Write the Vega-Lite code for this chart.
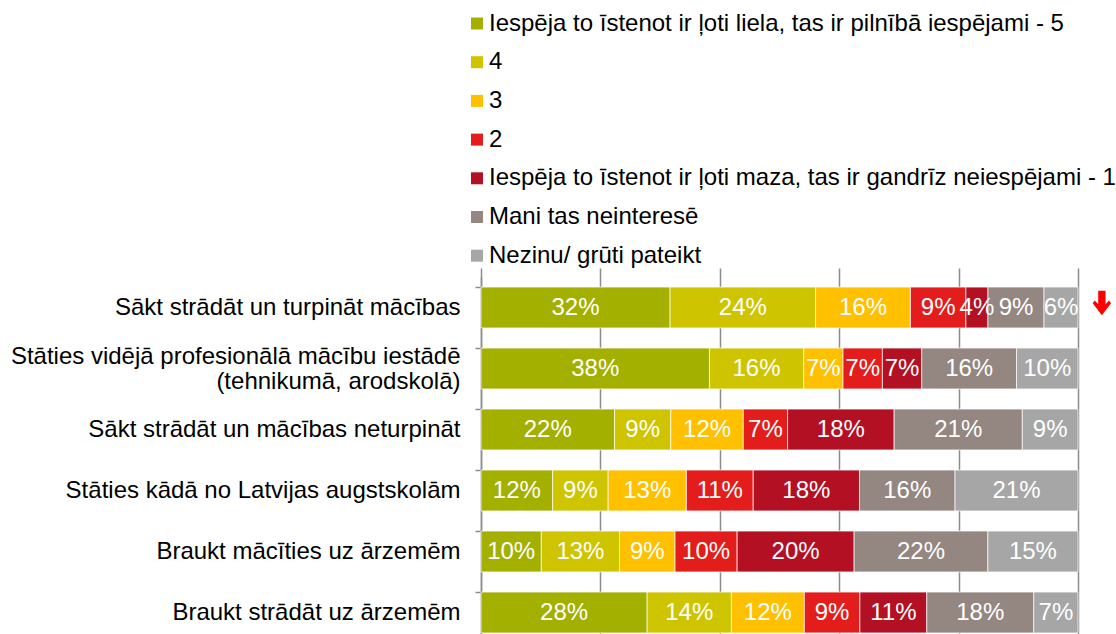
{
  "$schema": "https://vega.github.io/schema/vega-lite/v6.json",
  "width": 597,
  "height": 357,
  "autosize": {"type": "none"},
  "padding": {"left": 481, "top": 277, "right": 38, "bottom": 0},
  "background": "white",
  "config": {"view": {"stroke": null}, "font": "Liberation Sans"},
  "data": {"values": [
    {"task": "Sākt strādāt un turpināt mācības", "k": 1, "cat": "Iespēja to īstenot ir ļoti liela, tas ir pilnībā iespējami - 5", "v": 0.317},
    {"task": "Sākt strādāt un turpināt mācības", "k": 2, "cat": "4", "v": 0.244},
    {"task": "Sākt strādāt un turpināt mācības", "k": 3, "cat": "3", "v": 0.159},
    {"task": "Sākt strādāt un turpināt mācības", "k": 4, "cat": "2", "v": 0.093},
    {"task": "Sākt strādāt un turpināt mācības", "k": 5, "cat": "Iespēja to īstenot ir ļoti maza, tas ir gandrīz neiespējami - 1", "v": 0.037},
    {"task": "Sākt strādāt un turpināt mācības", "k": 6, "cat": "Mani tas neinteresē", "v": 0.094},
    {"task": "Sākt strādāt un turpināt mācības", "k": 7, "cat": "Nezinu/ grūti pateikt", "v": 0.057},
    {"task": "Stāties vidējā profesionālā mācību iestādē|(tehnikumā, arodskolā)", "k": 1, "cat": "Iespēja to īstenot ir ļoti liela, tas ir pilnībā iespējami - 5", "v": 0.383},
    {"task": "Stāties vidējā profesionālā mācību iestādē|(tehnikumā, arodskolā)", "k": 2, "cat": "4", "v": 0.158},
    {"task": "Stāties vidējā profesionālā mācību iestādē|(tehnikumā, arodskolā)", "k": 3, "cat": "3", "v": 0.066},
    {"task": "Stāties vidējā profesionālā mācību iestādē|(tehnikumā, arodskolā)", "k": 4, "cat": "2", "v": 0.066},
    {"task": "Stāties vidējā profesionālā mācību iestādē|(tehnikumā, arodskolā)", "k": 5, "cat": "Iespēja to īstenot ir ļoti maza, tas ir gandrīz neiespējami - 1", "v": 0.066},
    {"task": "Stāties vidējā profesionālā mācību iestādē|(tehnikumā, arodskolā)", "k": 6, "cat": "Mani tas neinteresē", "v": 0.159},
    {"task": "Stāties vidējā profesionālā mācību iestādē|(tehnikumā, arodskolā)", "k": 7, "cat": "Nezinu/ grūti pateikt", "v": 0.103},
    {"task": "Sākt strādāt un mācības neturpināt", "k": 1, "cat": "Iespēja to īstenot ir ļoti liela, tas ir pilnībā iespējami - 5", "v": 0.223},
    {"task": "Sākt strādāt un mācības neturpināt", "k": 2, "cat": "4", "v": 0.094},
    {"task": "Sākt strādāt un mācības neturpināt", "k": 3, "cat": "3", "v": 0.121},
    {"task": "Sākt strādāt un mācības neturpināt", "k": 4, "cat": "2", "v": 0.074},
    {"task": "Sākt strādāt un mācības neturpināt", "k": 5, "cat": "Iespēja to īstenot ir ļoti maza, tas ir gandrīz neiespējami - 1", "v": 0.178},
    {"task": "Sākt strādāt un mācības neturpināt", "k": 6, "cat": "Mani tas neinteresē", "v": 0.214},
    {"task": "Sākt strādāt un mācības neturpināt", "k": 7, "cat": "Nezinu/ grūti pateikt", "v": 0.093},
    {"task": "Stāties kādā no Latvijas augstskolām", "k": 1, "cat": "Iespēja to īstenot ir ļoti liela, tas ir pilnībā iespējami - 5", "v": 0.120},
    {"task": "Stāties kādā no Latvijas augstskolām", "k": 2, "cat": "4", "v": 0.093},
    {"task": "Stāties kādā no Latvijas augstskolām", "k": 3, "cat": "3", "v": 0.131},
    {"task": "Stāties kādā no Latvijas augstskolām", "k": 4, "cat": "2", "v": 0.112},
    {"task": "Stāties kādā no Latvijas augstskolām", "k": 5, "cat": "Iespēja to īstenot ir ļoti maza, tas ir gandrīz neiespējami - 1", "v": 0.178},
    {"task": "Stāties kādā no Latvijas augstskolām", "k": 6, "cat": "Mani tas neinteresē", "v": 0.160},
    {"task": "Stāties kādā no Latvijas augstskolām", "k": 7, "cat": "Nezinu/ grūti pateikt", "v": 0.206},
    {"task": "Braukt mācīties uz ārzemēm", "k": 1, "cat": "Iespēja to īstenot ir ļoti liela, tas ir pilnībā iespējami - 5", "v": 0.101},
    {"task": "Braukt mācīties uz ārzemēm", "k": 2, "cat": "4", "v": 0.131},
    {"task": "Braukt mācīties uz ārzemēm", "k": 3, "cat": "3", "v": 0.093},
    {"task": "Braukt mācīties uz ārzemēm", "k": 4, "cat": "2", "v": 0.104},
    {"task": "Braukt mācīties uz ārzemēm", "k": 5, "cat": "Iespēja to īstenot ir ļoti maza, tas ir gandrīz neiespējami - 1", "v": 0.196},
    {"task": "Braukt mācīties uz ārzemēm", "k": 6, "cat": "Mani tas neinteresē", "v": 0.224},
    {"task": "Braukt mācīties uz ārzemēm", "k": 7, "cat": "Nezinu/ grūti pateikt", "v": 0.151},
    {"task": "Braukt strādāt uz ārzemēm", "k": 1, "cat": "Iespēja to īstenot ir ļoti liela, tas ir pilnībā iespējami - 5", "v": 0.278},
    {"task": "Braukt strādāt uz ārzemēm", "k": 2, "cat": "4", "v": 0.141},
    {"task": "Braukt strādāt uz ārzemēm", "k": 3, "cat": "3", "v": 0.122},
    {"task": "Braukt strādāt uz ārzemēm", "k": 4, "cat": "2", "v": 0.093},
    {"task": "Braukt strādāt uz ārzemēm", "k": 5, "cat": "Iespēja to īstenot ir ļoti maza, tas ir gandrīz neiespējami - 1", "v": 0.112},
    {"task": "Braukt strādāt uz ārzemēm", "k": 6, "cat": "Mani tas neinteresē", "v": 0.179},
    {"task": "Braukt strādāt uz ārzemēm", "k": 7, "cat": "Nezinu/ grūti pateikt", "v": 0.074}
  ]},
  "transform": [
    {"stack": "v", "groupby": ["task"], "sort": [{"field": "k", "order": "ascending"}], "offset": "normalize", "as": ["x0", "x1"]},
    {"calculate": "(datum.x0 + datum.x1) / 2", "as": "xm"}
  ],
  "layer": [
    {
      "mark": {"type": "bar", "stroke": "white", "strokeWidth": 0.7},
      "encoding": {
        "y": {
          "field": "task", "type": "nominal",
          "sort": ["Sākt strādāt un turpināt mācības", "Stāties vidējā profesionālā mācību iestādē|(tehnikumā, arodskolā)", "Sākt strādāt un mācības neturpināt", "Stāties kādā no Latvijas augstskolām", "Braukt mācīties uz ārzemēm", "Braukt strādāt uz ārzemēm"],
          "scale": {"range": [0, 366], "paddingInner": 0.33, "paddingOuter": 0.165},
          "axis": {
            "title": null, "bandPosition": 0, "labelExpr": "split(datum.label, '|')",
            "labelFontSize": 24, "labelColor": "#000000", "labelLimit": 0, "labelLineHeight": 25,
            "labelOffset": {"condition": {"test": "indexof(datum.label, '|') >= 0", "value": -12}, "value": 0},
            "labelPadding": 15, "tickSize": 6, "tickColor": "#8c8c8c", "tickWidth": 1.5,
            "domainColor": "#8c8c8c", "domainWidth": 1.5, "grid": false
          }
        },
        "x": {
          "field": "x0", "type": "quantitative",
          "scale": {"domain": [0, 1], "nice": false},
          "axis": {"title": null, "labels": false, "ticks": false, "domain": false, "grid": true, "values": [0, 0.2, 0.4, 0.6, 0.8, 1], "gridColor": "#8c8c8c", "gridWidth": 1.5}
        },
        "x2": {"field": "x1"},
        "color": {
          "field": "cat", "type": "nominal",
          "scale": {
            "domain": ["Iespēja to īstenot ir ļoti liela, tas ir pilnībā iespējami - 5", "4", "3", "2", "Iespēja to īstenot ir ļoti maza, tas ir gandrīz neiespējami - 1", "Mani tas neinteresē", "Nezinu/ grūti pateikt"],
            "range": ["#a3b000", "#cfc400", "#ffc000", "#e31c1c", "#b31023", "#948681", "#a6a6a6"]
          },
          "legend": {
            "title": null, "orient": "none", "legendX": -16, "legendY": -265.5,
            "direction": "vertical", "symbolType": "square", "symbolSize": 144,
            "symbolStrokeWidth": 0, "labelFontSize": 24, "labelColor": "#000000",
            "labelLimit": 0, "labelOffset": 0, "rowPadding": 14.7
          }
        }
      }
    },
    {
      "mark": {"type": "text", "color": "white", "fontSize": 24, "baseline": "middle", "align": "center"},
      "encoding": {
        "y": {"field": "task", "type": "nominal", "sort": ["Sākt strādāt un turpināt mācības", "Stāties vidējā profesionālā mācību iestādē|(tehnikumā, arodskolā)", "Sākt strādāt un mācības neturpināt", "Stāties kādā no Latvijas augstskolām", "Braukt mācīties uz ārzemēm", "Braukt strādāt uz ārzemēm"]},
        "x": {"field": "xm", "type": "quantitative"},
        "text": {"field": "v", "type": "quantitative", "format": ".0%"}
      }
    },
    {
      "transform": [{"filter": "datum.k == 1 && datum.task == 'Sākt strādāt un turpināt mācības'"}],
      "mark": {"type": "point", "filled": true, "color": "#ff0000", "opacity": 1, "size": 600, "yOffset": -4.5,
        "shape": "M-0.3,-1 L0.3,-1 L0.3,0.1 L0.58,-0.2 L0.75,0.02 L0,1 L-0.75,0.02 L-0.58,-0.2 L-0.3,0.1 Z"},
      "encoding": {
        "y": {"field": "task", "type": "nominal", "sort": ["Sākt strādāt un turpināt mācības", "Stāties vidējā profesionālā mācību iestādē|(tehnikumā, arodskolā)", "Sākt strādāt un mācības neturpināt", "Stāties kādā no Latvijas augstskolām", "Braukt mācīties uz ārzemēm", "Braukt strādāt uz ārzemēm"]},
        "x": {"datum": 1.04, "type": "quantitative"}
      }
    }
  ]
}
